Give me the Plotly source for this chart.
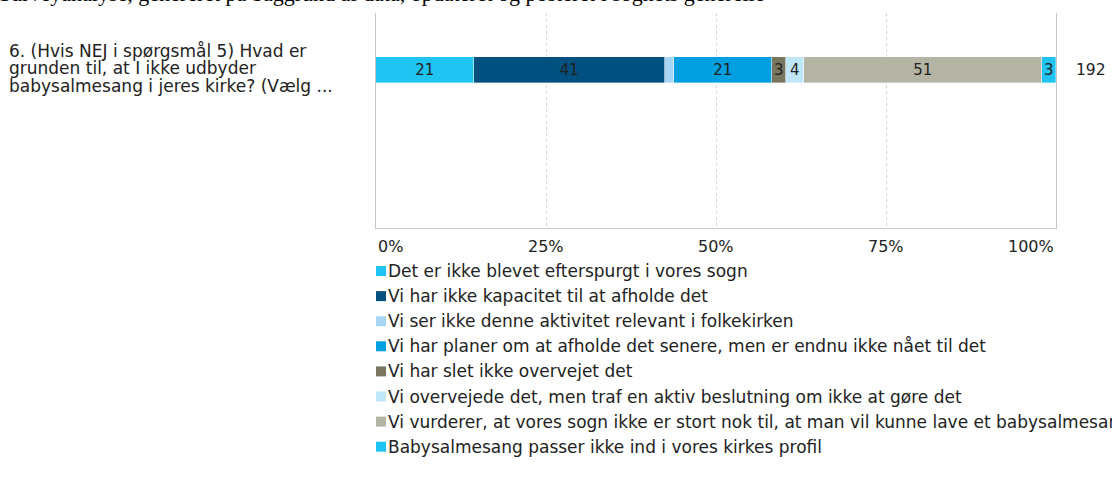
import plotly.graph_objects as go

categories = [
    "Det er ikke blevet efterspurgt i vores sogn",
    "Vi har ikke kapacitet til at afholde det",
    "Vi ser ikke denne aktivitet relevant i folkekirken",
    "Vi har planer om at afholde det senere, men er endnu ikke nået til det",
    "Vi har slet ikke overvejet det",
    "Vi overvejede det, men traf en aktiv beslutning om ikke at gøre det",
    "Vi vurderer, at vores sogn ikke er stort nok til, at man vil kunne lave et babysalmesang-tilbud",
    "Babysalmesang passer ikke ind i vores kirkes profil",
]
counts = [21, 41, 2, 21, 3, 4, 51, 3]
colors = ["#20C4F2", "#01507F", "#A8D5F3", "#009FE0", "#78765F", "#C0E6FA", "#B4B4A5", "#20C4F2"]
total_respondents = 192
question_lines = [
    "6. (Hvis NEJ i spørgsmål 5) Hvad er",
    "grunden til, at I ikke udbyder",
    "babysalmesang i jeres kirke? (Vælg ...",
]
tick_vals = [0, 25, 50, 75, 100]
tick_labels = ["0%", "25%", "50%", "75%", "100%"]
header = "Surveyanalyse, genereret på baggrund af data, opdateret og posteret i sognets generelle"

W, H = 1112, 496
L, R, T, B = 376, 56, 13, 268
PW, PH = W - L - R, H - T - B
FONT = "DejaVu Sans"
TXT = "#222222"

total = sum(counts)
fig = go.Figure()
for cat, c, col in zip(categories, counts, colors):
    fig.add_trace(go.Bar(
        y=[0], x=[c / total * 100], orientation="h", width=0.6,
        name=cat, marker=dict(color=col, line=dict(color="rgba(255,255,255,0.6)", width=0.6)),
        text=[str(c) if c >= 3 else ""], textposition="inside", insidetextanchor="middle",
        constraintext="none", textfont=dict(family=FONT, size=15, color=TXT),
        showlegend=False, hoverinfo="skip",
    ))

def py(p):
    return (H - B - p) / PH

ann = []
# header (partly cut off at top)
ann.append(dict(text=header, xref="paper", yref="paper", x=(-3 - L) / PW, y=py(8), xanchor="left",
                yanchor="bottom", showarrow=False, font=dict(family="Liberation Serif", size=22, color="#000")))
# question label, one line per annotation for tight spacing
for i, line in enumerate(question_lines):
    ann.append(dict(text=line, xref="paper", yref="paper", x=(7 - L) / PW, y=py(51 + i * 17.5),
                    xanchor="left", yanchor="middle", align="left", showarrow=False,
                    font=dict(family=FONT, size=17, color=TXT)))
# total
ann.append(dict(text=str(total_respondents), xref="x domain", yref="y", x=1, y=0, xshift=18,
                xanchor="left", yanchor="middle", showarrow=False, font=dict(family=FONT, size=15.5, color=TXT)))
# tick labels
for v, lab in zip(tick_vals, tick_labels):
    anc = "left" if v == tick_vals[0] else ("right" if v == tick_vals[-1] else "center")
    ann.append(dict(text=lab, xref="x", yref="paper", x=v, y=py(246.5), xanchor=anc, yanchor="middle",
                    showarrow=False, font=dict(family=FONT, size=16, color=TXT)))

shapes = []
for i, (cat, col) in enumerate(zip(categories, colors)):
    cy = 271 + i * 25.1
    shapes.append(dict(type="rect", xref="paper", yref="paper", x0=0, x1=10 / PW,
                       y0=py(cy + 5), y1=py(cy - 5), fillcolor=col, line=dict(width=0)))
    ann.append(dict(text=cat, xref="paper", yref="paper", x=10 / PW, y=py(cy), xanchor="left",
                    yanchor="middle", showarrow=False, font=dict(family=FONT, size=17, color=TXT)))

fig.update_layout(
    width=W, height=H, margin=dict(l=L, r=R, t=T, b=B, autoexpand=False),
    barmode="stack", bargap=0, plot_bgcolor="white", paper_bgcolor="white",
    annotations=ann, shapes=shapes, showlegend=False,
    xaxis=dict(range=[0, 100], tickvals=[25, 50, 75], showticklabels=False, showgrid=True,
               gridcolor="#d6d6d6", griddash="3px,3px", gridwidth=1, zeroline=False,
               showline=True, linecolor="#c8c8c8", linewidth=1, fixedrange=True),
    yaxis=dict(range=[-3.648, 1.316], showticklabels=False, showgrid=False, zeroline=False,
               showline=True, mirror=True, linecolor="#c8c8c8", linewidth=1, fixedrange=True),
)
fig.write_html("out.html", config={"displayModeBar": False},
               post_script="document.body.style.margin='0';document.body.style.overflow='hidden';")
